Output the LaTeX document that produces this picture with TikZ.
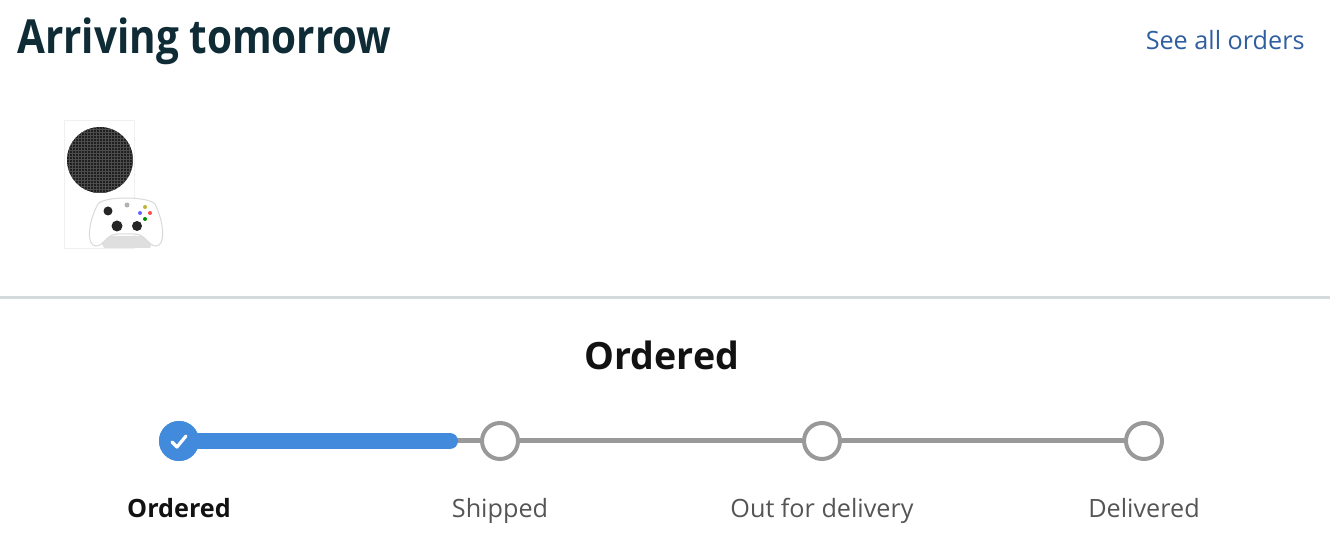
\documentclass[tikz,border=0pt]{standalone}
\usepackage{fontspec}
\setmainfont{Open Sans}
\newfontfamily\titlefont[FakeStretch=0.86]{Open Sans}
\definecolor{titleink}{HTML}{0F2B36}
\definecolor{linkblue}{HTML}{2F5F9E}
\definecolor{doneblue}{HTML}{428BDC}
\definecolor{trackgray}{HTML}{999999}
\definecolor{rulegray}{HTML}{D5DBDB}
\definecolor{labelgray}{HTML}{555555}
\begin{document}
\begin{tikzpicture}[x=0.5pt,y=-0.5pt,
    heading/.style={font=\titlefont\bfseries\fontsize{23.5}{28}\selectfont,text=titleink,inner sep=0},
    link/.style={font=\fontsize{12.6}{16}\selectfont,text=linkblue,inner sep=0},
    status/.style={font=\bfseries\fontsize{18.8}{24}\selectfont,text=black!93,inner sep=0},
    stepdot/.style={circle,draw=trackgray,line width=2pt,fill=white,minimum size=18pt,inner sep=0},
    donedot/.style={circle,fill=doneblue,minimum size=20pt,inner sep=0},
    steplabel/.style={font=\fontsize{12.6}{16}\selectfont,text=labelgray,inner sep=0,anchor=base},
    track/.style={trackgray,line width=2.5pt},
    progress/.style={doneblue,line width=8pt,line cap=round},
  ]
  \useasboundingbox (0,0) rectangle (1330,534);
  % header
  \node[heading,anchor=base west] (title) at (17,54) {Arriving tomorrow};
  \node[link,anchor=base east] (allorders) at (1305,50) {See all orders};
  % product picture
  \fill[white] (64,120) rectangle (134,248);
  \draw[gray!12,line width=0.4pt] (64,120) rectangle (134,248);
  \fill[black!88] (100,160) circle[radius=33];
  \begin{scope}
    \clip (100,160) circle[radius=33];
    \foreach \g in {69,72,...,132}{
      \draw[black!70,line width=0.3pt] (\g,127) -- (\g,193);
      \draw[black!70,line width=0.3pt] (67,\g+60) -- (133,\g+60);
    }
  \end{scope}
  \fill[gray!25] (98,236) -- (155,236) -- (150,248) -- (104,248) -- cycle;
  \draw[gray!30,fill=white,line width=0.5pt] (98,204) .. controls (104,196) and (148,196) .. (155,204)
    .. controls (164,222) and (166,246) .. (156,246) .. controls (148,246) and (146,234) .. (134,234)
    -- (118,234) .. controls (106,234) and (104,246) .. (96,246) .. controls (86,246) and (88,222) .. cycle;
  \fill[black!85] (108,211) circle[radius=4.5];
  \fill[black!85] (117,226) circle[radius=5.5];
  \fill[black!85] (137,226) circle[radius=5];
  \fill[gray!60] (127,205) circle[radius=2.5];
  \fill[yellow!70!black] (145,207) circle[radius=2];
  \fill[blue!60] (140,213) circle[radius=2];
  \fill[red!70] (150,213) circle[radius=2];
  \fill[green!55!black] (145,219) circle[radius=2];
  % separator
  \draw[rulegray,line width=1.5pt] (0,298) -- (1330,298);
  \node[status,anchor=base] (current) at (662,370) {Ordered};
  % progress track
  \coordinate (reached) at (450,441);
  \node[donedot] (s1) at (179,441) {};
  \foreach \n/\x in {2/500,3/822,4/1144}
    \node[stepdot] (s\n) at (\x,441) {};
  \draw[track] (s1) -- (s2);
  \draw[track] (s2) -- (s3);
  \draw[track] (s3) -- (s4);
  \draw[progress] (s1.center) -- (reached);
  \node[donedot] at (s1) {};
  \draw[white,line width=1.6pt,line cap=round,line join=round]
    ([shift={(-7,1)}]s1.center) -- ([shift={(-2,6)}]s1.center) -- ([shift={(7,-5)}]s1.center);
  % step labels
  \node[steplabel,font=\bfseries\fontsize{12.6}{16}\selectfont,text=black!93] (l1) at (179,517) {Ordered};
  \foreach \n/\x/\t in {2/500/Shipped,3/822/Out for delivery,4/1144/Delivered}
    \node[steplabel] (l\n) at (\x,517) {\t};
\end{tikzpicture}
\end{document}
